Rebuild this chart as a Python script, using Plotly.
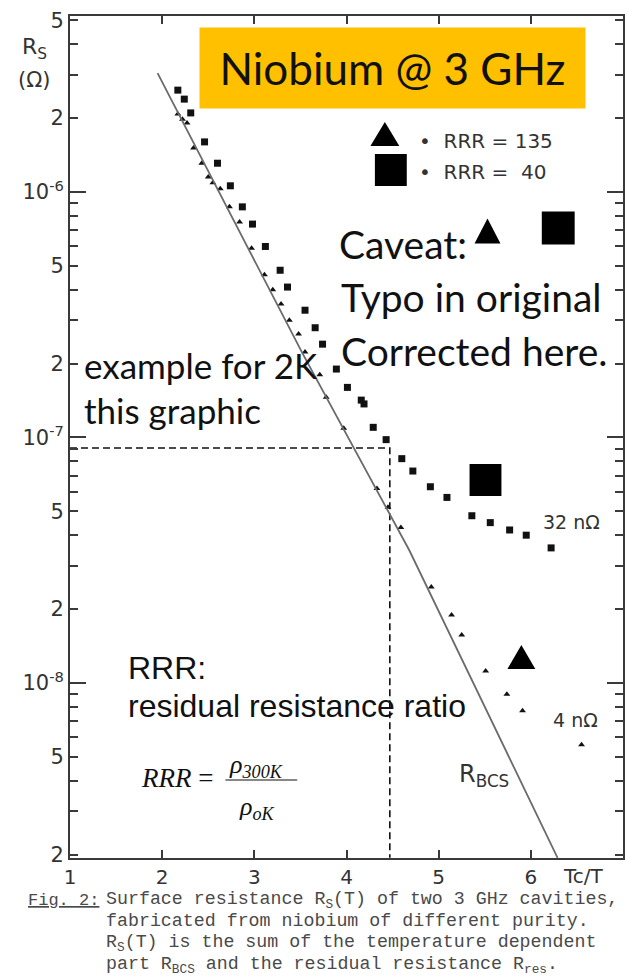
import plotly.graph_objects as go

# ---------------- data ----------------
sq_x = [2.17, 2.24, 2.31, 2.46, 2.60, 2.74, 2.87, 2.98, 3.12, 3.28, 3.36, 3.55, 3.66, 3.74,
        3.89, 4.01, 4.16, 4.19, 4.29, 4.43, 4.60, 4.72, 4.91, 5.09, 5.36, 5.56, 5.77, 5.95, 6.22]
sq_y = [2.60e-6, 2.39e-6, 2.10e-6, 1.60e-6, 1.31e-6, 1.06e-6, 8.7e-7, 7.4e-7, 6.0e-7, 4.8e-7,
        4.1e-7, 3.3e-7, 2.8e-7, 2.4e-7, 1.9e-7, 1.6e-7, 1.42e-7, 1.37e-7, 1.10e-7, 9.8e-8,
        8.2e-8, 7.3e-8, 6.3e-8, 5.7e-8, 4.8e-8, 4.5e-8, 4.2e-8, 4.0e-8, 3.55e-8]

tri_x = [2.17, 2.22, 2.27, 2.34, 2.43, 2.50, 2.55, 2.63, 2.73, 2.84, 2.97, 3.11, 3.20, 3.29,
         3.38, 3.48, 3.55, 3.71, 3.78, 3.97, 4.33, 4.45, 4.59, 4.92, 5.14, 5.25, 5.51, 5.74,
         5.91, 6.55]
tri_y = [2.08e-6, 1.98e-6, 1.91e-6, 1.51e-6, 1.31e-6, 1.15e-6, 1.09e-6, 1.03e-6, 8.7e-7,
         7.55e-7, 5.9e-7, 4.6e-7, 4.0e-7, 3.5e-7, 3.0e-7, 2.64e-7, 2.23e-7, 1.80e-7, 1.46e-7,
         1.09e-7, 6.2e-8, 5.2e-8, 4.3e-8, 2.46e-8, 1.89e-8, 1.57e-8, 1.12e-8, 9.0e-9, 7.7e-9,
         5.6e-9]

rbcs_x = [1.95, 3.52, 4.68, 6.29]
rbcs_y = [3.05e-6, 2.21e-7, 3.48e-8, 1.94e-9]

example_x = [1.0, 4.47, 4.47]
example_y = [9.06e-8, 9.06e-8, 1.94e-9]

x_ticks = [1, 2, 3, 4, 5, 6, 7]
y_label_vals = [2e-9, 5e-9, 1e-8, 2e-8, 5e-8, 1e-7, 2e-7, 5e-7, 1e-6, 2e-6, 5e-6]
y_label_text = ["2", "5", "10<sup>-8</sup>", "2", "5", "10<sup>-7</sup>", "2", "5",
                "10<sup>-6</sup>", "2", "5"]
y_decades = [1e-8, 1e-7, 1e-6]
y_minor = [m * 10.0 ** e for e in (-9, -8, -7, -6) for m in (2, 3, 4, 5, 6, 7, 8, 9)]

Y_RANGE = [-8.713, -5.283]
X_RANGE = [1, 7]

# ---------------- geometry helpers (pixel -> paper) ----------------
L, R, T, B = 70, 625, 16, 858


def P(xp):
    return (xp - L) / (R - L)


def Q(yp):
    return (B - yp) / (B - T)


AX = "#3a3a3a"
SCAN = "DejaVu Sans"

fig = go.Figure()

fig.add_trace(go.Scatter(x=example_x, y=example_y, mode="lines",
                         line=dict(color="#111", width=1.6, dash="7px,4px"),
                         hoverinfo="skip", showlegend=False))
fig.add_trace(go.Scatter(x=rbcs_x, y=rbcs_y, mode="lines", yaxis="y2",
                         line=dict(color="#6b6b6b", width=1.8),
                         hoverinfo="skip", showlegend=False))
fig.add_trace(go.Scatter(x=sq_x, y=sq_y, mode="markers",
                         marker=dict(symbol="square", size=7, color="#111"),
                         name="RRR=40", showlegend=False))
fig.add_trace(go.Scatter(x=tri_x, y=tri_y, mode="markers",
                         marker=dict(symbol="triangle-up", size=6, color="#111"),
                         name="RRR=135", showlegend=False))

annotations = []


def ann(text, xp, yp, size, family, color="#111", xanchor="left", yanchor="middle", **kw):
    d = dict(text=text, x=P(xp), y=Q(yp), xref="paper", yref="paper", showarrow=False,
             xanchor=xanchor, yanchor=yanchor, font=dict(size=size, family=family, color=color))
    d.update(kw)
    annotations.append(d)


# title box
ann("Niobium @ 3 GHz", 393.5, 68, 44, "Lato", color="#111", xanchor="center",
    bgcolor="#FFC000", width=383, height=78, align="center")

# legend (original) text
ann("•  RRR = 135", 418, 141, 20, SCAN, color="#333")
ann("•  RRR =  40", 418, 172, 20, SCAN, color="#333")

# caveat text
ann("Caveat:", 338, 244, 39, "Lato")
ann("Typo in original", 340, 297, 39, "Lato")
ann("Corrected here.", 340, 351, 39, "Lato")

# example
ann("example for 2K", 82, 365, 35, "Lato")
ann("this graphic", 82, 410, 35, "Lato")

# RRR definition
ann("RRR:", 126, 668, 32, "Liberation Sans")
ann("residual resistance ratio", 126, 706, 32, "Liberation Sans")
ann("<i>RRR</i> =", 139, 778, 27, "Liberation Serif", xanchor="left")
ann("<i>ρ<sub>300K</sub></i>", 228, 766, 26, "Liberation Serif")
ann("<i>ρ<sub>oK</sub></i>", 238, 808, 26, "Liberation Serif")

# curve labels
ann("32 nΩ", 543, 522, 19, SCAN, color="#333")
ann("4 nΩ", 553, 720, 19, SCAN, color="#333")
ann("R<sub>BCS</sub>", 458, 775, 24, SCAN, color="#333")

# axis titles
ann("R<sub>S</sub>", 34, 48, 22, SCAN, color="#333", xanchor="center")
ann("(Ω)", 34, 80, 21, SCAN, color="#333", xanchor="center")
ann("Tc/T", 585, 876, 20, SCAN, color="#333", xanchor="center")

# caption
CF = "Liberation Mono"
CC = "#4a4a4a"
ann("<u>Fig. 2:</u>", 26, 900, 17, CF, color=CC)
ann("Surface resistance R<sub>S</sub>(T) of two 3 GHz cavities,", 104, 900, 18.3, CF, color=CC)
ann("fabricated from niobium of different purity.", 104, 921, 18.3, CF, color=CC)
ann("R<sub>S</sub>(T) is the sum of the temperature dependent", 104, 943, 18.3, CF, color=CC)
ann("part R<sub>BCS</sub> and the residual resistance R<sub>res</sub>.", 104, 965, 18.3, CF, color=CC)

shapes = []


def tri(cx, cy, w, h):
    shapes.append(dict(type="path", xref="paper", yref="paper",
                       path=f"M {P(cx - w / 2)} {Q(cy + h / 2)} L {P(cx + w / 2)} {Q(cy + h / 2)} "
                            f"L {P(cx)} {Q(cy - h / 2)} Z",
                       fillcolor="#000", line=dict(width=0)))


def sq(cx, cy, s):
    shapes.append(dict(type="rect", xref="paper", yref="paper",
                       x0=P(cx - s / 2), x1=P(cx + s / 2), y0=Q(cy + s / 2), y1=Q(cy - s / 2),
                       fillcolor="#000", line=dict(width=0)))


tri(386, 134, 29, 24)
sq(392, 170, 32)
tri(489, 231, 26, 25)
sq(560, 228, 33)
sq(487, 480, 32)
tri(523, 657, 28, 24)

# fraction bar
shapes.append(dict(type="line", xref="paper", yref="paper", x0=P(226), x1=P(298),
                   y0=Q(780), y1=Q(780), line=dict(color="#111", width=1.2)))

fig.update_layout(
    width=627, height=978,
    margin=dict(l=L, r=627 - R, t=T, b=978 - B),
    paper_bgcolor="white", plot_bgcolor="white",
    showlegend=False,
    annotations=annotations,
    shapes=shapes,
    xaxis=dict(range=X_RANGE, tickvals=x_ticks, ticktext=[str(v) for v in x_ticks],
               ticks="inside", ticklen=8, tickwidth=1.5, tickcolor=AX,
               showline=True, linecolor=AX, linewidth=2, mirror="ticks",
               showgrid=False, zeroline=False,
               tickfont=dict(size=20, family=SCAN, color="#333")),
    yaxis=dict(type="log", range=Y_RANGE, tickvals=y_label_vals, ticktext=y_label_text,
               ticks="inside", ticklen=8, tickwidth=1.5, tickcolor=AX,
               minor=dict(tickvals=y_minor, ticks="inside", ticklen=8, tickwidth=1.5,
                          tickcolor=AX, showgrid=False),
               showline=True, linecolor=AX, linewidth=2, mirror="ticks",
               showgrid=False, zeroline=False,
               tickfont=dict(size=21, family=SCAN, color="#333")),
    yaxis2=dict(type="log", range=Y_RANGE, overlaying="y", side="left",
                tickvals=y_decades, showticklabels=False,
                ticks="inside", ticklen=16, tickwidth=1.8, tickcolor=AX,
                showline=False, mirror="ticks", showgrid=False, zeroline=False),
)

fig.write_html("out.html")
